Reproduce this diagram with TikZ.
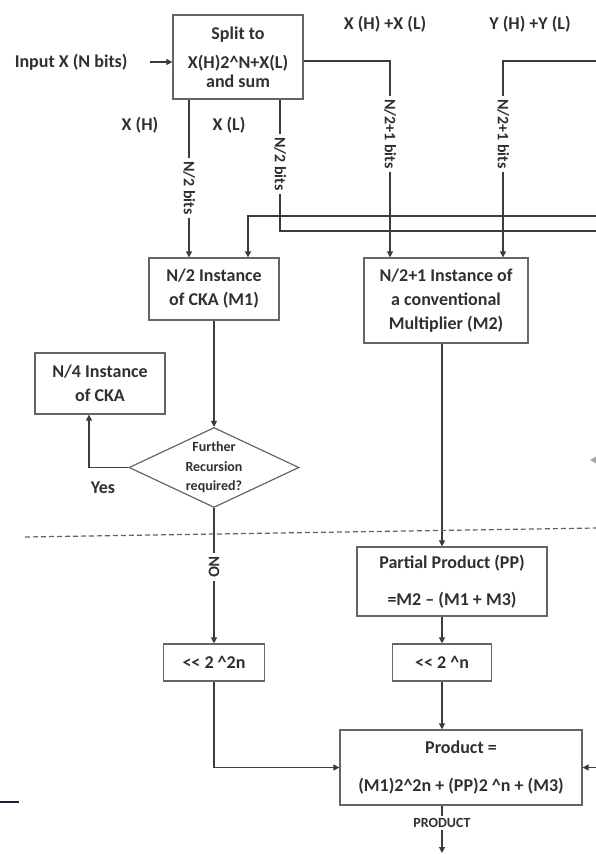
\documentclass[tikz,border=0pt]{standalone}
\usepackage{fontspec}
\setmainfont{Carlito}
\usetikzlibrary{shapes.geometric,arrows.meta}
\definecolor{ln}{HTML}{3C3C3C}
\definecolor{tx}{HTML}{303030}
\definecolor{bx}{HTML}{666666}
\definecolor{navy}{HTML}{1A1F36}
\newcommand\mainfnt{\bfseries\fontsize{18}{24}\selectfont}
\newcommand\lblfnt{\bfseries\fontsize{18}{20}\selectfont}
\newcommand\rotfnt{\bfseries\fontsize{16}{19}\selectfont}
\begin{document}
\begin{tikzpicture}[x=1pt,y=-1pt,
  box/.style={draw=bx, line width=1.2pt, text=tx, font=\mainfnt, align=center, inner sep=0pt},
  conn/.style={draw=ln, line width=1.1pt},
  arr/.style={conn, -{Triangle[length=6pt,width=6pt]}},
  lbl/.style={text=tx, font=\lblfnt},
  onln/.style={fill=white, text=tx, font=\rotfnt, rotate=-90, inner sep=3pt},
  dline/.style={draw=ln!80, line width=1.2pt, dash pattern=on 5pt off 3pt}]
\useasboundingbox (0,0) rectangle (596,854);

% boxes
\node[box, minimum width=130, minimum height=84, font=\bfseries\fontsize{18}{18.5}\selectfont] (split) at (238,57) {Split to\\[11pt]X(H)2\textasciicircum N+X(L)\\and sum};
\node[box, minimum width=130, minimum height=62] (M1) at (214,289) {N/2 Instance\\of CKA (M1)};
\node[box, minimum width=164, minimum height=85] (M2) at (446,300.5) {N/2+1 Instance of\\a conventional\\Multiplier (M2)};
\node[box, minimum width=130, minimum height=61] (N4) at (100,383.5) {N/4 Instance\\of CKA};
\node[draw=bx, line width=1.2pt, diamond, aspect=2.1, inner sep=0pt, minimum width=170, minimum height=80, text=tx, align=center, font=\bfseries\fontsize{14}{19.5}\selectfont] (dia) at (214,467.5) {Further\\Recursion\\required?};
\node[box, minimum width=190, minimum height=69] (PP) at (452,581.5) {Partial Product (PP)\\[13pt]=M2 – (M1 + M3)};
\node[box, minimum width=101, minimum height=37] (S2n) at (214,662.5) {<\kern0pt< 2 \textasciicircum 2n};
\node[box, minimum width=99, minimum height=37] (Sn) at (442,662.5) {<\kern0pt< 2 \textasciicircum n};
\node[box, minimum width=242, minimum height=75] (Prod) at (461,767.5) {Product =\\[14pt](M1)2\textasciicircum 2n + (PP)2 \textasciicircum n + (M3)};

% free labels
\node[lbl, anchor=east] (inp) at (131,62) {Input X (N bits)};
\node[lbl] (lxs) at (385,24) {X (H) +X (L)};
\node[lbl] (lys) at (530,24) {Y (H) +Y (L)};
\node[lbl] (lxh) at (140,125) {X (H)};
\node[lbl] (lxl) at (229,125) {X (L)};
\node[lbl] (lyes) at (103,488) {Yes};

% free ends at the border
\coordinate (yin) at (596,61);
\coordinate (ra) at (596,216);
\coordinate (rb) at (596,231);
\coordinate (rin) at (596,767.5);
\coordinate (out) at (442,853);
\coordinate (d1) at (25,537);
\coordinate (d2) at (596,528);

% connectors
\draw[arr] ([xshift=19pt]inp.east) -- (split.west |- inp.east);
\draw[arr] ([xshift=-49pt]split.south) -- ([xshift=-25pt]M1.north);
\draw[conn] ([xshift=42pt]split.south) |- (rb);
\draw[arr] ([yshift=-4pt]split.east) -| ([xshift=-56pt]M2.north);
\draw[arr] (yin) -| ([xshift=57pt]M2.north);
\draw[arr] (ra) -| ([xshift=34pt]M1.north);
\draw[arr] (M1.south) -- (dia.north);
\draw[arr] (dia.west) -| ([xshift=-11pt]N4.south);
\draw[arr] (dia.south) -- (S2n.north);
\draw[arr] (S2n.south) |- (Prod.west);
\draw[arr] (M2.south -| Sn.north) -- (Sn.north |- PP.north);
\draw[arr] (PP.south -| Sn.north) -- (Sn.north);
\draw[arr] (Sn.south) -- (Sn.south |- Prod.north);
\draw[arr] (rin) -- (Prod.east);
\draw[arr] (Sn.south |- Prod.south) -- (out);
\draw[dline] (d1) -- (d2);

% labels on lines
\node[onln] (b1) at (189,188) {N/2 bits};
\node[onln] (b2) at (280,164) {N/2 bits};
\node[onln] (b3) at (390,134) {N/2+1 bits};
\node[onln] (b4) at (503,134) {N/2+1 bits};
\node[onln] (bno) at (214,567) {NO};
\node[fill=white, text=tx, inner sep=2pt, font=\bfseries\fontsize{14}{16}\selectfont] (bprod) at (442,823) {PRODUCT};

% stray marks
\draw[navy, line width=2.5pt] (0,802) -- (19,802);
\fill[gray!70] (590,460) -- (596,456.5) -- (596,463.5) -- cycle;
\end{tikzpicture}
\end{document}
